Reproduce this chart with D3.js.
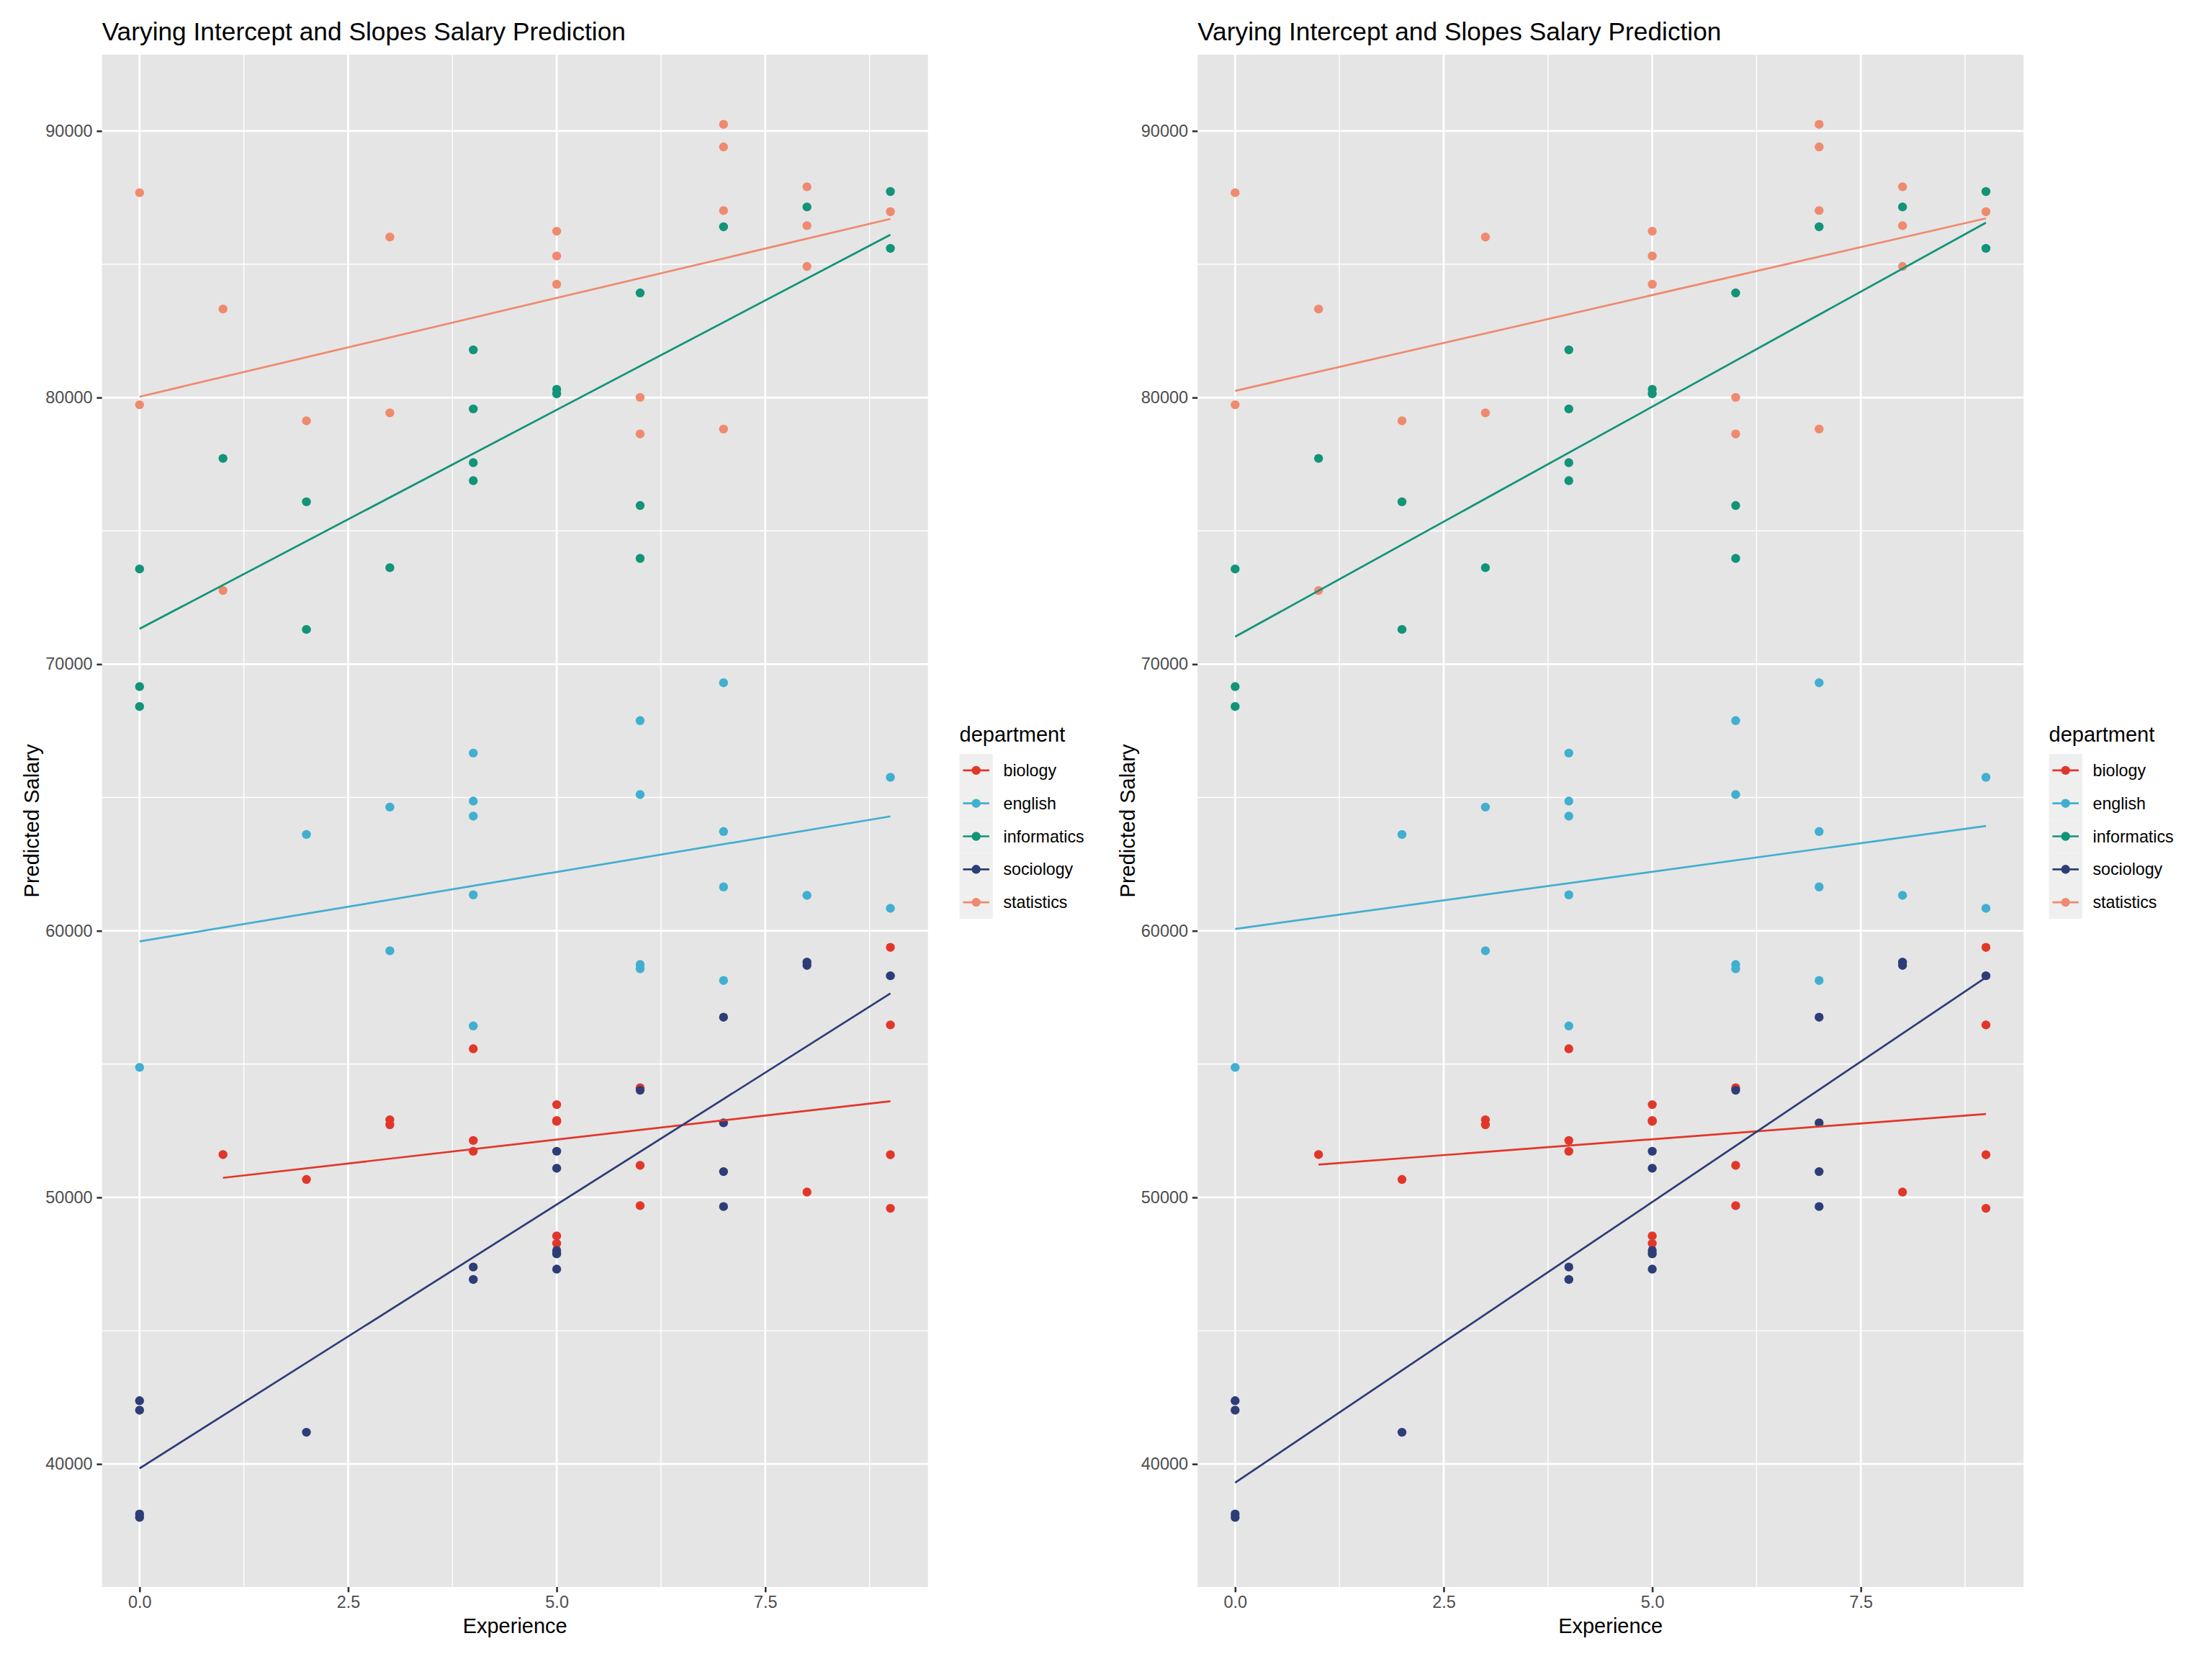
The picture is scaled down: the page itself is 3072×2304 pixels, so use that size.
<!DOCTYPE html>
<html>
<head>
<meta charset="utf-8">
<script src="https://cdn.jsdelivr.net/npm/d3@7"></script>
<style>
  body { margin: 0; background: #ffffff; }
  text { font-family: "Liberation Sans", Arial, Helvetica, sans-serif; }
</style>
</head>
<body>
<svg id="chart"></svg>
<script>
// ---------------- DATA ----------------
const departments = ["biology", "english", "informatics", "sociology", "statistics"];
const deptColors = ["#E1372B", "#41AFCF", "#119477", "#2D3D77", "#EF8A6F"];

// [experience, predicted salary]
const biologyPoints = [[1,51606],[2,50672],[3,52913],[3,52726],[4,55575],[4,52135],[4,51730],
  [5,53480],[5,52884],[5,52850],[5,48555],[5,48274],[6,54111],[6,51201],[6,49692],
  [8,50200],[9,59377],[9,56469],[9,51600],[9,49591]];
const englishPoints = [[0,54876],[2,63613],[3,64639],[3,59250],[4,66664],[4,64865],[4,64299],
  [4,61348],[4,56431],[6,67882],[6,65109],[6,58734],[6,58578],[7,69302],[7,63724],
  [7,61645],[7,58135],[8,61329],[9,65757],[9,60843]];
const informaticsPoints = [[0,73570],[0,69159],[0,68411],[1,77718],[2,76090],[2,71303],[3,73619],
  [4,81790],[4,79573],[4,77558],[4,76883],[5,80307],[5,80140],[6,83925],[6,75950],
  [6,73967],[7,86404],[8,87149],[9,87727],[9,85594]];
const sociologyPoints = [[0,42375],[0,42019],[0,38125],[0,38000],[2,41192],[4,47389],[4,46921],
  [5,51730],[5,51093],[5,48010],[5,47885],[5,47310],[6,54020],[7,56758],[7,52797],
  [7,50968],[7,49657],[8,58826],[8,58702],[9,58313]];
const statisticsPoints = [[0,87683],[0,79730],[1,83320],[1,72763],[2,79127],[3,86020],[3,79427],
  [5,86239],[5,85310],[5,84249],[6,80007],[6,78633],[7,90246],[7,89400],[7,87014],
  [7,78817],[8,87905],[8,86447],[8,84918],[9,86971]];
const deptPoints = [biologyPoints, englishPoints, informaticsPoints, sociologyPoints, statisticsPoints];

// fitted lines (per department, same order)
const fitXStart = [1, 0, 0, 0, 0];
const fitXEnd   = [9, 9, 9, 9, 9];
const fitLeftStart  = [50734, 59601, 71327, 39837, 80031];
const fitLeftEnd    = [53607, 64291, 86107, 57649, 86700];
const fitRightStart = [51230, 60070, 71030, 39300, 80250];
const fitRightEnd   = [53130, 63930, 86560, 58250, 86720];

const xTicks = [0, 2.5, 5, 7.5];
const yTicks = [40000, 50000, 60000, 70000, 80000, 90000];

const titleText = "Varying Intercept and Slopes Salary Prediction";
const xTitle = "Experience";
const yTitle = "Predicted Salary";
const legendTitle = "department";

// ---------------- LAYOUT ----------------
const W = 3072, H = 2304;
const svg = d3.select("#chart").attr("width", W).attr("height", H)
  .style("background", "#ffffff");
svg.append("rect").attr("width", W).attr("height", H).attr("fill", "#ffffff");

const P = { left: 141.7, right: 1288.7, top: 76, bottom: 2204 };

// domains with ggplot-like 5% expansion
const allX = deptPoints.flat().map(d => d[0]);
const allY = deptPoints.flat().map(d => d[1])
  .concat(fitLeftStart, fitLeftEnd, fitRightStart, fitRightEnd);
const [x0, x1] = d3.extent(allX);
const [y0, y1] = d3.extent(allY);
const xPad = (x1 - x0) * 0.05, yPad = (y1 - y0) * 0.05;

const x = d3.scaleLinear().domain([x0 - xPad, x1 + xPad]).range([P.left, P.right]);
const y = d3.scaleLinear().domain([y0 - yPad, y1 + yPad]).range([P.bottom, P.top]);

const xStep = xTicks[1] - xTicks[0], yStep = yTicks[1] - yTicks[0];
const xMinor = xTicks.map(t => t + xStep / 2).concat([xTicks[0] - xStep / 2])
  .filter(v => v >= x.domain()[0] && v <= x.domain()[1]);
const yMinor = yTicks.map(t => t + yStep / 2).concat([yTicks[0] - yStep / 2])
  .filter(v => v >= y.domain()[0] && v <= y.domain()[1]);

function drawPlot(offsetX, fitStart, fitEnd, legendX) {
  const g = svg.append("g").attr("transform", `translate(${offsetX},0)`);

  // title
  g.append("text").attr("x", P.left).attr("y", 56)
    .attr("font-size", 35.3).attr("fill", "#000").text(titleText);

  // panel background
  g.append("rect").attr("x", P.left).attr("y", P.top)
    .attr("width", P.right - P.left).attr("height", P.bottom - P.top)
    .attr("fill", "#E5E5E5");

  // minor grid
  g.append("g").selectAll("line").data(xMinor).join("line")
    .attr("x1", d => x(d)).attr("x2", d => x(d)).attr("y1", P.top).attr("y2", P.bottom)
    .attr("stroke", "#fff").attr("stroke-width", 1.4);
  g.append("g").selectAll("line").data(yMinor).join("line")
    .attr("y1", d => y(d)).attr("y2", d => y(d)).attr("x1", P.left).attr("x2", P.right)
    .attr("stroke", "#fff").attr("stroke-width", 1.4);
  // major grid
  g.append("g").selectAll("line").data(xTicks).join("line")
    .attr("x1", d => x(d)).attr("x2", d => x(d)).attr("y1", P.top).attr("y2", P.bottom)
    .attr("stroke", "#fff").attr("stroke-width", 2.8);
  g.append("g").selectAll("line").data(yTicks).join("line")
    .attr("y1", d => y(d)).attr("y2", d => y(d)).attr("x1", P.left).attr("x2", P.right)
    .attr("stroke", "#fff").attr("stroke-width", 2.8);

  // points
  deptPoints.forEach((pts, i) => {
    g.append("g").selectAll("circle").data(pts).join("circle")
      .attr("cx", d => x(d[0])).attr("cy", d => y(d[1])).attr("r", 6.2)
      .attr("fill", deptColors[i]);
  });
  // fitted lines
  departments.forEach((dep, i) => {
    g.append("line")
      .attr("x1", x(fitXStart[i])).attr("y1", y(fitStart[i]))
      .attr("x2", x(fitXEnd[i])).attr("y2", y(fitEnd[i]))
      .attr("stroke", deptColors[i]).attr("stroke-width", 2.7);
  });

  // axes
  const xAxis = d3.axisBottom(x).tickValues(xTicks).tickFormat(d3.format(".1f"))
    .tickSize(7.3).tickSizeOuter(0).tickPadding(5);
  const gx = g.append("g").attr("transform", `translate(0,${P.bottom})`).call(xAxis);
  gx.select(".domain").remove();
  gx.selectAll(".tick line").attr("stroke", "#333").attr("stroke-width", 2.6);
  gx.selectAll(".tick text").attr("font-size", 23.5).attr("fill", "#4D4D4D")
    .attr("font-family", '"Liberation Sans", Arial, Helvetica, sans-serif');

  const yAxis = d3.axisLeft(y).tickValues(yTicks).tickFormat(d3.format("d"))
    .tickSize(7.3).tickSizeOuter(0).tickPadding(5.8);
  const gy = g.append("g").attr("transform", `translate(${P.left},0)`).call(yAxis);
  gy.select(".domain").remove();
  gy.selectAll(".tick line").attr("stroke", "#333").attr("stroke-width", 2.6);
  gy.selectAll(".tick text").attr("font-size", 23.5).attr("fill", "#4D4D4D")
    .attr("font-family", '"Liberation Sans", Arial, Helvetica, sans-serif');

  // axis titles
  g.append("text").attr("x", (P.left + P.right) / 2).attr("y", 2268)
    .attr("text-anchor", "middle").attr("font-size", 29).attr("fill", "#000").text(xTitle);
  g.append("text")
    .attr("transform", `translate(54,${(P.top + P.bottom) / 2}) rotate(-90)`)
    .attr("text-anchor", "middle").attr("font-size", 29).attr("fill", "#000").text(yTitle);

  // legend
  const lg = g.append("g").attr("transform", `translate(${legendX},0)`);
  lg.append("text").attr("x", 0).attr("y", 1029.5).attr("font-size", 29)
    .attr("fill", "#000").text(legendTitle);
  const keyH = 45.8, keyW = 46.3, keyTop = 1047;
  departments.forEach((dep, i) => {
    const cy = keyTop + keyH * i + keyH / 2;
    lg.append("rect").attr("x", 0).attr("y", keyTop + keyH * i)
      .attr("width", keyW).attr("height", keyH).attr("fill", "#EFEFEF");
    lg.append("line").attr("x1", 4.9).attr("x2", 41.4).attr("y1", cy).attr("y2", cy)
      .attr("stroke", deptColors[i]).attr("stroke-width", 2.7);
    lg.append("circle").attr("cx", keyW / 2).attr("cy", cy).attr("r", 6.2)
      .attr("fill", deptColors[i]);
    lg.append("text").attr("x", 61).attr("y", cy).attr("dy", "0.35em")
      .attr("font-size", 23.2).attr("fill", "#000").text(dep);
  });
}

drawPlot(0, fitLeftStart, fitLeftEnd, 1332.5);
drawPlot(1521.5, fitRightStart, fitRightEnd, 1324);
</script>
</body>
</html>
